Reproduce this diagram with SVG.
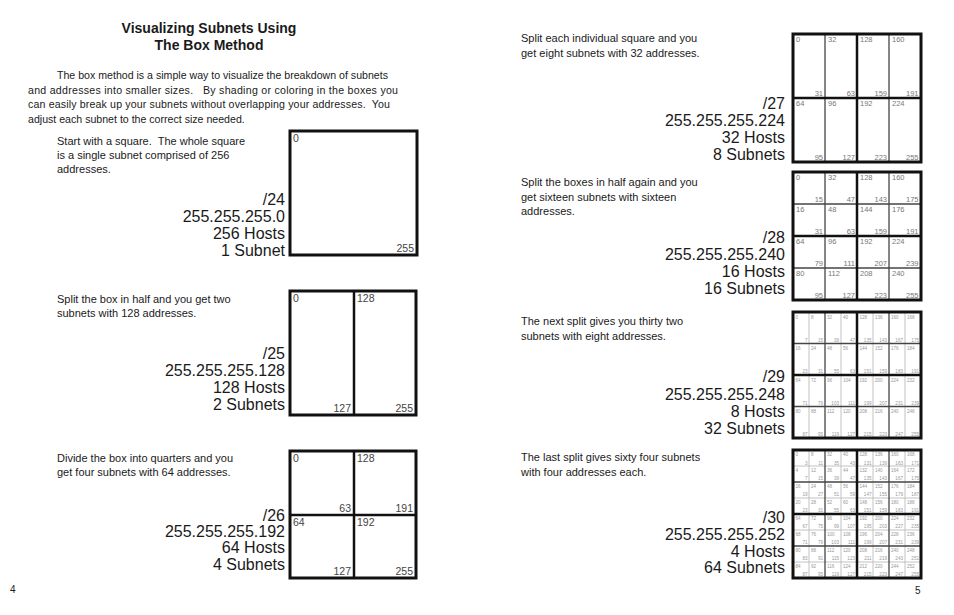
<svg xmlns="http://www.w3.org/2000/svg" width="954" height="615" viewBox="0 0 954 615">
<style>
text{font-family:"Liberation Sans",Arial,Helvetica,sans-serif;fill:#1a1a1a}
.title{font-weight:bold;font-size:14px;text-anchor:middle}
.body{font-size:11px;white-space:pre}
.para{font-size:10.6px;white-space:pre}
.lbl{font-size:16px;text-anchor:end}
.pg{font-size:10px}
.n1{font-size:10.5px;fill:#444}
.n2{font-size:7.5px;fill:#777}
.n3{font-size:4.6px;fill:#999}
.e{text-anchor:end}
.bg{fill:#fff;stroke:none}
.bx{fill:none;stroke:#111;stroke-width:3}
.thick{stroke:#111;stroke-width:2.5}
.mid{stroke:#444;stroke-width:1.3}
.lite{stroke:#bbb;stroke-width:0.9}
</style>
<rect width="954" height="615" fill="#fff"/>

<g id="heading">
<text class="title" x="209" y="33">Visualizing Subnets Using</text>
<text class="title" x="209" y="50">The Box Method</text>
<text class="para" x="57" y="79">The box method is a simple way to visualize the breakdown of subnets</text>
<text class="para" x="28" y="93.5" textLength="370">and addresses into smaller sizes.   By shading or coloring in the boxes you</text>
<text class="para" x="28" y="108" textLength="362">can easily break up your subnets without overlapping your addresses.  You</text>
<text class="para" x="28" y="122.5">adjust each subnet to the correct size needed.</text>
</g>

<g id="node-24">
<text class="body" x="57" y="145">Start with a square.  The whole square</text>
<text class="body" x="57" y="159">is a single subnet comprised of 256</text>
<text class="body" x="57" y="173">addresses.</text>
<text class="lbl" x="285" y="205">/24</text>
<text class="lbl" x="285" y="222">255.255.255.0</text>
<text class="lbl" x="285" y="239">256 Hosts</text>
<text class="lbl" x="285" y="256">1 Subnet</text>
<rect class="bg" x="290" y="131" width="127" height="124"/>
<rect class="bx" x="290" y="131" width="127" height="124"/>
<text class="n1" x="293" y="142">0</text>
<text class="n1 e" x="414" y="252">255</text>
</g>

<g id="node-25">
<text class="body" x="57" y="303">Split the box in half and you get two</text>
<text class="body" x="57" y="317">subnets with 128 addresses.</text>
<text class="lbl" x="285" y="359">/25</text>
<text class="lbl" x="285" y="376">255.255.255.128</text>
<text class="lbl" x="285" y="393">128 Hosts</text>
<text class="lbl" x="285" y="410">2 Subnets</text>
<rect class="bg" x="290" y="291" width="126" height="124"/>
<line class="thick" x1="354" y1="291" x2="354" y2="415"/>
<rect class="bx" x="290" y="291" width="126" height="124"/>
<text class="n1" x="293" y="302">0</text>
<text class="n1" x="357" y="302">128</text>
<text class="n1 e" x="351" y="412">127</text>
<text class="n1 e" x="413" y="412">255</text>
</g>

<g id="node-26">
<text class="body" x="57" y="462">Divide the box into quarters and you</text>
<text class="body" x="57" y="476">get four subnets with 64 addresses.</text>
<text class="lbl" x="285" y="521">/26</text>
<text class="lbl" x="285" y="537">255.255.255.192</text>
<text class="lbl" x="285" y="553">64 Hosts</text>
<text class="lbl" x="285" y="570">4 Subnets</text>
<rect class="bg" x="290" y="451" width="126" height="127"/>
<line class="thick" x1="354" y1="451" x2="354" y2="578"/>
<line class="thick" x1="290" y1="515" x2="416" y2="515"/>
<rect class="bx" x="290" y="451" width="126" height="127"/>
<text class="n1" x="293" y="462">0</text>
<text class="n1" x="357" y="462">128</text>
<text class="n1 e" x="351" y="512">63</text>
<text class="n1 e" x="413" y="512">191</text>
<text class="n1" x="293" y="526">64</text>
<text class="n1" x="357" y="526">192</text>
<text class="n1 e" x="351" y="575">127</text>
<text class="n1 e" x="413" y="575">255</text>
</g>

<g id="node-27">
<text class="body" x="521" y="42">Split each individual square and you</text>
<text class="body" x="521" y="57">get eight subnets with 32 addresses.</text>
<text class="lbl" x="785" y="109">/27</text>
<text class="lbl" x="785" y="126">255.255.255.224</text>
<text class="lbl" x="785" y="143">32 Hosts</text>
<text class="lbl" x="785" y="160">8 Subnets</text>
<rect class="bg" x="793" y="34" width="128" height="128"/>
<line class="mid" x1="825" y1="34" x2="825" y2="162"/>
<line class="mid" x1="889" y1="34" x2="889" y2="162"/>
<line class="thick" x1="857" y1="34" x2="857" y2="162"/>
<line class="thick" x1="793" y1="98" x2="921" y2="98"/>
<rect class="bx" x="793" y="34" width="128" height="128"/>
<text class="n2" y="42"><tspan x="796">0</tspan><tspan x="828">32</tspan><tspan x="860">128</tspan><tspan x="892">160</tspan></text>
<text class="n2 e" y="96"><tspan x="823">31</tspan><tspan x="855">63</tspan><tspan x="887">159</tspan><tspan x="918.5">191</tspan></text>
<text class="n2" y="106"><tspan x="796">64</tspan><tspan x="828">96</tspan><tspan x="860">192</tspan><tspan x="892">224</tspan></text>
<text class="n2 e" y="159.5"><tspan x="823">95</tspan><tspan x="855">127</tspan><tspan x="887">223</tspan><tspan x="918.5">255</tspan></text>
</g>

<g id="node-28">
<text class="body" x="521" y="186">Split the boxes in half again and you</text>
<text class="body" x="521" y="201">get sixteen subnets with sixteen</text>
<text class="body" x="521" y="215">addresses.</text>
<text class="lbl" x="785" y="243">/28</text>
<text class="lbl" x="785" y="260">255.255.255.240</text>
<text class="lbl" x="785" y="277">16 Hosts</text>
<text class="lbl" x="785" y="294">16 Subnets</text>
<rect class="bg" x="793" y="172" width="128" height="128"/>
<line class="mid" x1="825" y1="172" x2="825" y2="300"/>
<line class="mid" x1="889" y1="172" x2="889" y2="300"/>
<line class="mid" x1="793" y1="204" x2="921" y2="204"/>
<line class="mid" x1="793" y1="268" x2="921" y2="268"/>
<line class="thick" x1="857" y1="172" x2="857" y2="300"/>
<line class="thick" x1="793" y1="236" x2="921" y2="236"/>
<rect class="bx" x="793" y="172" width="128" height="128"/>
<text class="n2" y="180"><tspan x="796">0</tspan><tspan x="828">32</tspan><tspan x="860">128</tspan><tspan x="892">160</tspan></text>
<text class="n2 e" y="202"><tspan x="823">15</tspan><tspan x="855">47</tspan><tspan x="887">143</tspan><tspan x="918.5">175</tspan></text>
<text class="n2" y="212"><tspan x="796">16</tspan><tspan x="828">48</tspan><tspan x="860">144</tspan><tspan x="892">176</tspan></text>
<text class="n2 e" y="234"><tspan x="823">31</tspan><tspan x="855">63</tspan><tspan x="887">159</tspan><tspan x="918.5">191</tspan></text>
<text class="n2" y="244"><tspan x="796">64</tspan><tspan x="828">96</tspan><tspan x="860">192</tspan><tspan x="892">224</tspan></text>
<text class="n2 e" y="266"><tspan x="823">79</tspan><tspan x="855">111</tspan><tspan x="887">207</tspan><tspan x="918.5">239</tspan></text>
<text class="n2" y="276"><tspan x="796">80</tspan><tspan x="828">112</tspan><tspan x="860">208</tspan><tspan x="892">240</tspan></text>
<text class="n2 e" y="297.5"><tspan x="823">95</tspan><tspan x="855">127</tspan><tspan x="887">223</tspan><tspan x="918.5">255</tspan></text>
</g>

<g id="node-29">
<text class="body" x="521" y="325">The next split gives you thirty two</text>
<text class="body" x="521" y="340">subnets with eight addresses.</text>
<text class="lbl" x="785" y="382">/29</text>
<text class="lbl" x="785" y="400">255.255.255.248</text>
<text class="lbl" x="785" y="417">8 Hosts</text>
<text class="lbl" x="785" y="434">32 Subnets</text>
<rect class="bg" x="793" y="312" width="128" height="126"/>
<line class="lite" x1="809" y1="312" x2="809" y2="438"/>
<line class="lite" x1="841" y1="312" x2="841" y2="438"/>
<line class="lite" x1="873" y1="312" x2="873" y2="438"/>
<line class="lite" x1="905" y1="312" x2="905" y2="438"/>
<line class="mid" x1="825" y1="312" x2="825" y2="438"/>
<line class="mid" x1="889" y1="312" x2="889" y2="438"/>
<line class="mid" x1="793" y1="343.5" x2="921" y2="343.5"/>
<line class="mid" x1="793" y1="406.5" x2="921" y2="406.5"/>
<line class="thick" x1="857" y1="312" x2="857" y2="438"/>
<line class="thick" x1="793" y1="375" x2="921" y2="375"/>
<rect class="bx" x="793" y="312" width="128" height="126"/>
<text class="n3" y="318.5"><tspan x="795.5">0</tspan><tspan x="811">8</tspan><tspan x="827">32</tspan><tspan x="843">40</tspan><tspan x="859.5">128</tspan><tspan x="875">136</tspan><tspan x="891">160</tspan><tspan x="907">168</tspan></text>
<text class="n3 e" y="341.5"><tspan x="807.5">7</tspan><tspan x="823">15</tspan><tspan x="839">39</tspan><tspan x="855">47</tspan><tspan x="871.5">135</tspan><tspan x="887">143</tspan><tspan x="903">167</tspan><tspan x="919">175</tspan></text>
<text class="n3" y="350"><tspan x="795.5">16</tspan><tspan x="811">24</tspan><tspan x="827">48</tspan><tspan x="843">56</tspan><tspan x="859.5">144</tspan><tspan x="875">152</tspan><tspan x="891">176</tspan><tspan x="907">184</tspan></text>
<text class="n3 e" y="373"><tspan x="807.5">23</tspan><tspan x="823">31</tspan><tspan x="839">55</tspan><tspan x="855">63</tspan><tspan x="871.5">151</tspan><tspan x="887">159</tspan><tspan x="903">183</tspan><tspan x="919">191</tspan></text>
<text class="n3" y="381.5"><tspan x="795.5">64</tspan><tspan x="811">72</tspan><tspan x="827">96</tspan><tspan x="843">104</tspan><tspan x="859.5">192</tspan><tspan x="875">200</tspan><tspan x="891">224</tspan><tspan x="907">232</tspan></text>
<text class="n3 e" y="404.5"><tspan x="807.5">71</tspan><tspan x="823">79</tspan><tspan x="839">103</tspan><tspan x="855">111</tspan><tspan x="871.5">199</tspan><tspan x="887">207</tspan><tspan x="903">231</tspan><tspan x="919">239</tspan></text>
<text class="n3" y="413"><tspan x="795.5">80</tspan><tspan x="811">88</tspan><tspan x="827">112</tspan><tspan x="843">120</tspan><tspan x="859.5">208</tspan><tspan x="875">216</tspan><tspan x="891">240</tspan><tspan x="907">248</tspan></text>
<text class="n3 e" y="435.5"><tspan x="807.5">87</tspan><tspan x="823">95</tspan><tspan x="839">119</tspan><tspan x="855">127</tspan><tspan x="871.5">215</tspan><tspan x="887">223</tspan><tspan x="903">247</tspan><tspan x="919">255</tspan></text>
</g>

<g id="node-30">
<text class="body" x="521" y="461">The last split gives sixty four subnets</text>
<text class="body" x="521" y="476">with four addresses each.</text>
<text class="lbl" x="785" y="523">/30</text>
<text class="lbl" x="785" y="540">255.255.255.252</text>
<text class="lbl" x="785" y="557">4 Hosts</text>
<text class="lbl" x="785" y="573">64 Subnets</text>
<rect class="bg" x="793" y="450" width="128" height="128"/>
<line class="lite" x1="809" y1="450" x2="809" y2="578"/>
<line class="lite" x1="841" y1="450" x2="841" y2="578"/>
<line class="lite" x1="873" y1="450" x2="873" y2="578"/>
<line class="lite" x1="905" y1="450" x2="905" y2="578"/>
<line class="lite" x1="793" y1="466" x2="921" y2="466"/>
<line class="lite" x1="793" y1="498" x2="921" y2="498"/>
<line class="lite" x1="793" y1="530" x2="921" y2="530"/>
<line class="lite" x1="793" y1="562" x2="921" y2="562"/>
<line class="mid" x1="825" y1="450" x2="825" y2="578"/>
<line class="mid" x1="889" y1="450" x2="889" y2="578"/>
<line class="mid" x1="793" y1="482" x2="921" y2="482"/>
<line class="mid" x1="793" y1="546" x2="921" y2="546"/>
<line class="thick" x1="857" y1="450" x2="857" y2="578"/>
<line class="thick" x1="793" y1="514" x2="921" y2="514"/>
<rect class="bx" x="793" y="450" width="128" height="128"/>
<text class="n3" y="456.3"><tspan x="795.5">0</tspan><tspan x="811">8</tspan><tspan x="827">32</tspan><tspan x="843">40</tspan><tspan x="859.5">128</tspan><tspan x="875">136</tspan><tspan x="891">160</tspan><tspan x="907">168</tspan></text>
<text class="n3 e" y="464.5"><tspan x="807.5">3</tspan><tspan x="823">11</tspan><tspan x="839">35</tspan><tspan x="855">43</tspan><tspan x="871.5">131</tspan><tspan x="887">139</tspan><tspan x="903">163</tspan><tspan x="919">171</tspan></text>
<text class="n3" y="472"><tspan x="795.5">4</tspan><tspan x="811">12</tspan><tspan x="827">36</tspan><tspan x="843">44</tspan><tspan x="859.5">132</tspan><tspan x="875">140</tspan><tspan x="891">164</tspan><tspan x="907">172</tspan></text>
<text class="n3 e" y="480.3"><tspan x="807.5">7</tspan><tspan x="823">15</tspan><tspan x="839">39</tspan><tspan x="855">47</tspan><tspan x="871.5">135</tspan><tspan x="887">143</tspan><tspan x="903">167</tspan><tspan x="919">175</tspan></text>
<text class="n3" y="488"><tspan x="795.5">16</tspan><tspan x="811">24</tspan><tspan x="827">48</tspan><tspan x="843">56</tspan><tspan x="859.5">144</tspan><tspan x="875">152</tspan><tspan x="891">176</tspan><tspan x="907">184</tspan></text>
<text class="n3 e" y="496.3"><tspan x="807.5">19</tspan><tspan x="823">27</tspan><tspan x="839">51</tspan><tspan x="855">59</tspan><tspan x="871.5">147</tspan><tspan x="887">155</tspan><tspan x="903">179</tspan><tspan x="919">187</tspan></text>
<text class="n3" y="504"><tspan x="795.5">20</tspan><tspan x="811">28</tspan><tspan x="827">52</tspan><tspan x="843">60</tspan><tspan x="859.5">148</tspan><tspan x="875">156</tspan><tspan x="891">180</tspan><tspan x="907">188</tspan></text>
<text class="n3 e" y="512.3"><tspan x="807.5">23</tspan><tspan x="823">31</tspan><tspan x="839">55</tspan><tspan x="855">63</tspan><tspan x="871.5">151</tspan><tspan x="887">159</tspan><tspan x="903">183</tspan><tspan x="919">191</tspan></text>
<text class="n3" y="520"><tspan x="795.5">64</tspan><tspan x="811">72</tspan><tspan x="827">96</tspan><tspan x="843">104</tspan><tspan x="859.5">192</tspan><tspan x="875">200</tspan><tspan x="891">224</tspan><tspan x="907">232</tspan></text>
<text class="n3 e" y="528.3"><tspan x="807.5">67</tspan><tspan x="823">75</tspan><tspan x="839">99</tspan><tspan x="855">107</tspan><tspan x="871.5">195</tspan><tspan x="887">203</tspan><tspan x="903">227</tspan><tspan x="919">235</tspan></text>
<text class="n3" y="536"><tspan x="795.5">68</tspan><tspan x="811">76</tspan><tspan x="827">100</tspan><tspan x="843">108</tspan><tspan x="859.5">196</tspan><tspan x="875">204</tspan><tspan x="891">228</tspan><tspan x="907">236</tspan></text>
<text class="n3 e" y="544.3"><tspan x="807.5">71</tspan><tspan x="823">79</tspan><tspan x="839">103</tspan><tspan x="855">111</tspan><tspan x="871.5">199</tspan><tspan x="887">207</tspan><tspan x="903">231</tspan><tspan x="919">239</tspan></text>
<text class="n3" y="552"><tspan x="795.5">80</tspan><tspan x="811">88</tspan><tspan x="827">112</tspan><tspan x="843">120</tspan><tspan x="859.5">208</tspan><tspan x="875">216</tspan><tspan x="891">240</tspan><tspan x="907">248</tspan></text>
<text class="n3 e" y="560.3"><tspan x="807.5">83</tspan><tspan x="823">91</tspan><tspan x="839">115</tspan><tspan x="855">123</tspan><tspan x="871.5">211</tspan><tspan x="887">219</tspan><tspan x="903">243</tspan><tspan x="919">251</tspan></text>
<text class="n3" y="568"><tspan x="795.5">84</tspan><tspan x="811">92</tspan><tspan x="827">116</tspan><tspan x="843">124</tspan><tspan x="859.5">212</tspan><tspan x="875">220</tspan><tspan x="891">244</tspan><tspan x="907">252</tspan></text>
<text class="n3 e" y="576"><tspan x="807.5">87</tspan><tspan x="823">95</tspan><tspan x="839">119</tspan><tspan x="855">127</tspan><tspan x="871.5">215</tspan><tspan x="887">223</tspan><tspan x="903">247</tspan><tspan x="919">255</tspan></text>
</g>

<g id="page-numbers">
<text class="pg" x="10" y="593">4</text>
<text class="pg" x="915" y="594">5</text>
</g>
</svg>
